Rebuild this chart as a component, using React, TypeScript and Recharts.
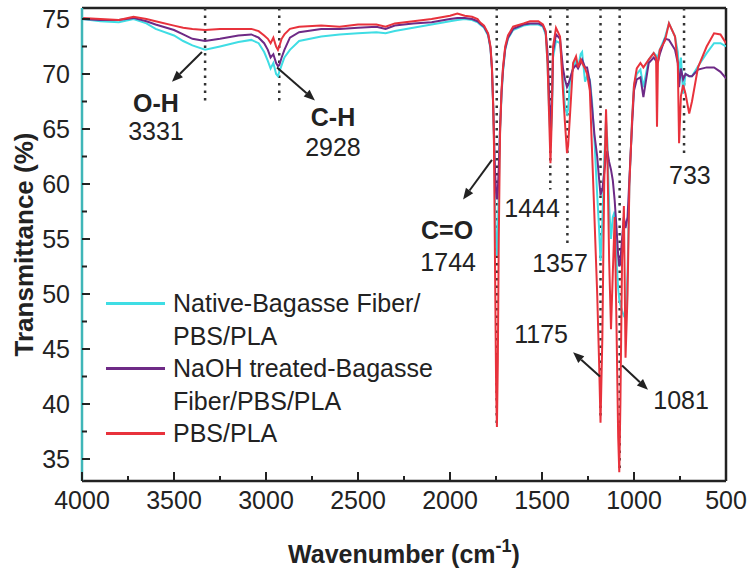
import React from 'react';
import { LineChart, Line, XAxis, YAxis, ReferenceLine, ReferenceDot, Legend, Label } from 'recharts';

const FONT = '"Liberation Sans", Arial, sans-serif';
const INK = '#222';
const CYAN = '#3fdde4';
const PURPLE = '#6e2a86';
const RED = '#e8323c';

// wavenumbers (cm-1), shared by all three spectra
const wavenumbers = [
  4000, 3900, 3800, 3720, 3650, 3600, 3500, 3450, 3400, 3331,
  3250, 3150, 3080, 3040, 3010, 2990, 2975, 2960, 2945, 2935,
  2928, 2915, 2900, 2870, 2820, 2700, 2600, 2500, 2400, 2350,
  2300, 2200, 2100, 2000, 1960, 1920, 1880, 1850, 1837, 1815,
  1793, 1780, 1772, 1765, 1761, 1755, 1749, 1745, 1740, 1735,
  1728, 1720, 1712, 1700, 1685, 1657, 1600, 1565, 1520, 1495,
  1480, 1470, 1462, 1454, 1446, 1440, 1424, 1402, 1386, 1375,
  1364, 1358, 1347, 1331, 1315, 1304, 1290, 1282, 1266, 1255,
  1240, 1228, 1215, 1200, 1190, 1182, 1172, 1162, 1152, 1145,
  1135, 1125, 1115, 1105, 1095, 1086, 1080, 1074, 1065, 1055,
  1046, 1035, 1025, 1010, 1000, 985, 965, 949, 920, 893,
  880, 875, 870, 860, 832, 810, 777, 762, 755, 745,
  733, 720, 700, 685, 652, 605, 565, 530, 500,
];

// Native-Bagasse Fiber/PBS/PLA
const nativeFiber = [
  75.0, 74.8, 74.7, 75.0, 74.6, 74.1, 73.5, 73.0, 72.6, 72.2,
  72.5, 72.9, 73.1, 72.8, 72.0, 71.2, 70.5, 71.0, 70.0, 69.8,
  70.2, 70.8, 71.5, 72.2, 73.0, 73.4, 73.6, 73.7, 73.8, 73.7,
  73.9, 74.2, 74.5, 74.8, 74.9, 75.0, 74.9, 74.7, 74.5, 74.2,
  73.5, 72.3, 70.4, 66.8, 64.0, 58.0, 54.5, 53.5, 55.5, 59.5,
  64.8, 68.0, 70.2, 72.2, 73.2, 74.0, 74.4, 74.5, 74.5, 74.3,
  73.6, 71.0, 67.0, 64.0, 66.0, 71.5, 73.0, 72.8, 69.7, 67.0,
  66.4, 66.8, 69.5, 70.5, 71.3, 70.6, 71.8, 72.0, 69.3, 69.8,
  69.5, 67.5, 64.0, 59.0, 56.0, 53.0, 56.5, 62.0, 65.8, 64.0,
  58.0, 55.0, 57.0, 57.5, 53.0, 50.5, 49.5, 49.0, 48.5, 48.0,
  47.8, 52.0, 60.0, 66.0, 69.0, 70.0, 70.4, 68.8, 71.3, 71.9,
  71.7, 71.5, 71.6, 72.2, 73.3, 74.6, 73.4, 72.0, 70.0, 71.5,
  68.2, 70.0, 69.8, 69.8, 70.7, 71.9, 72.8, 72.8, 72.5,
];

// NaOH treated-Bagasse Fiber/PBS/PLA
const naohFiber = [
  75.0, 74.9, 74.9, 75.1, 74.8, 74.5, 74.0, 73.6, 73.2, 73.0,
  73.2, 73.5, 73.6, 73.3, 72.8, 72.2, 71.5, 71.8, 71.0, 70.7,
  70.8, 71.5, 72.2, 73.3, 73.8, 74.1, 74.1, 74.2, 74.3, 74.1,
  74.4, 74.6, 74.7, 75.0, 75.1, 75.1, 75.0, 74.8, 74.6, 74.3,
  73.6, 72.4, 70.5, 67.0, 64.5, 61.0, 59.2, 58.6, 59.5, 61.5,
  65.2, 68.3, 70.4, 72.3, 73.3, 74.1, 74.5, 74.6, 74.6, 74.4,
  73.8, 72.0, 68.5, 65.0, 67.5, 72.0, 73.6, 73.2, 70.5, 69.5,
  68.8, 69.0, 69.6, 70.5, 70.8, 70.5, 71.0, 71.3, 70.6, 70.6,
  69.3, 67.0, 64.5, 62.5, 60.5, 59.0, 59.5, 61.0, 62.5, 63.0,
  62.0, 61.3, 60.3, 58.5, 56.0, 53.5, 52.5, 53.0, 55.0, 57.0,
  56.0, 57.0, 60.5, 65.5, 68.5, 69.5, 69.7, 67.9, 71.0, 71.5,
  71.2, 71.0, 71.1, 71.8, 73.2, 73.1, 72.2, 71.0, 68.8, 70.5,
  69.5, 70.0, 69.8, 69.8, 70.4, 70.6, 70.6, 70.2, 69.6,
];

// PBS/PLA
const pbsPla = [
  75.1, 75.0, 74.9, 75.2, 75.0, 74.8, 74.4, 74.2, 74.1, 74.0,
  74.1, 74.1, 74.1, 73.9, 73.5, 73.2, 72.8, 73.3, 72.5, 72.2,
  72.5, 73.2, 73.6, 74.1, 74.3, 74.4, 74.3, 74.5, 74.5, 74.3,
  74.6, 74.8, 75.0, 75.3, 75.5, 75.3, 75.2, 75.0, 74.7, 74.4,
  73.7, 72.5, 70.6, 67.0, 63.5, 52.0, 41.0, 37.9, 44.0, 55.0,
  64.5, 68.5, 70.6, 72.5, 73.5, 74.3, 74.6, 74.8, 74.8, 74.5,
  73.9, 71.0, 66.5, 61.9, 66.5, 72.5, 74.2, 73.4, 68.5, 65.5,
  62.8, 63.5, 66.5, 71.0, 71.6, 70.6, 71.3, 71.0, 70.5, 70.0,
  68.5, 63.0, 57.0, 50.0, 44.0, 38.3, 46.0, 60.0, 66.8, 63.0,
  53.0, 46.8, 52.0, 57.0, 47.0, 37.0, 33.8, 40.0, 53.0, 58.0,
  44.2, 50.0, 60.0, 66.0, 69.0, 70.5, 71.0, 70.6, 71.3, 71.9,
  71.5, 65.2, 71.0, 72.2, 73.0, 74.6, 73.4, 71.0, 63.7, 68.0,
  69.0, 68.2, 66.4, 67.5, 70.6, 72.5, 73.7, 73.6, 72.8,
];

const seriesNames = [
  ['Native-Bagasse Fiber/', 'PBS/PLA'],
  ['NaOH treated-Bagasse', 'Fiber/PBS/PLA'],
  ['PBS/PLA'],
];
const seriesColors = [CYAN, PURPLE, RED];

const xTicks = [500, 750, 1000, 1250, 1500, 1750, 2000, 2250, 2500, 2750, 3000, 3250, 3500, 3750, 4000];
const yTicks = [35, 37.5, 40, 42.5, 45, 47.5, 50, 52.5, 55, 57.5, 60, 62.5, 65, 67.5, 70, 72.5, 75];

// dotted peak markers: [wavenumber, lower end of the dotted line]
const peakMarkers = [
  [3331, 67.5], [2928, 67.5], [1746, 38], [1455, 59.5], [1362, 54.5], [1182, 38.5], [1078, 34], [728, 62.5],
];

// peak labels: text, wavenumber, transmittance (text centre), bold
const peakLabels = [
  { text: 'O-H', wn: 3598, t: 67.4, bold: true },
  { text: '3331', wn: 3598, t: 64.8, bold: false },
  { text: 'C-H', wn: 2636, t: 66.1, bold: true },
  { text: '2928', wn: 2636, t: 63.4, bold: false },
  { text: 'C=O', wn: 2016, t: 55.8, bold: true },
  { text: '1744', wn: 2010, t: 52.9, bold: false },
  { text: '1444', wn: 1554, t: 57.8, bold: false },
  { text: '1357', wn: 1402, t: 52.8, bold: false },
  { text: '733', wn: 696, t: 60.8, bold: false },
  { text: '1175', wn: 1505, t: 46.4, bold: false },
  { text: '1081', wn: 744, t: 40.4, bold: false },
];

// arrows from peak to label: [fromWn, fromT, toWn, toT]
const arrows = [
  [3348, 72.0, 3511, 69.3],
  [2940, 70.6, 2734, 67.6],
  [1772, 62.2, 1929, 58.6],
  [1185, 42.5, 1331, 44.7],
  [1065, 43.5, 924, 41.3],
];

const data = wavenumbers.map((wn, i) => ({
  wn,
  native: nativeFiber[i],
  naoh: naohFiber[i],
  pbs: pbsPla[i],
}));

const XTick = ({ x, y, payload }: any) => {
  const major = payload.value % 500 === 0;
  const axisY = y - 10;
  return (
    <g>
      <line x1={x} x2={x} y1={axisY} y2={axisY - (major ? 9 : 5)} stroke={INK} strokeWidth={2} />
      {major && (
        <text x={x} y={y} dy="0.71em" textAnchor="middle" fontSize={25} fontFamily={FONT} fill={INK}>
          {payload.value}
        </text>
      )}
    </g>
  );
};

const YTick = ({ x, y, payload }: any) => {
  const major = payload.value % 5 === 0;
  const axisX = x + 12;
  return (
    <g>
      <line x1={axisX} x2={axisX + (major ? 8 : 5)} y1={y} y2={y} stroke={INK} strokeWidth={2} />
      {major && (
        <text x={x} y={y} dy="0.355em" textAnchor="end" fontSize={25} fontFamily={FONT} fill={INK}>
          {payload.value}
        </text>
      )}
    </g>
  );
};

const XTitle = ({ viewBox }: any) => {
  const cx = viewBox.x + viewBox.width / 2;
  const by = viewBox.y + 82;
  return (
    <text x={cx} y={by} textAnchor="middle" fontSize={25} fontWeight="bold" fontFamily={FONT} fill={INK}>
      Wavenumber (cm<tspan dy={-11} fontSize={18}>-1</tspan><tspan dy={11}>)</tspan>
    </text>
  );
};

const YTitle = ({ viewBox }: any) => {
  const cx = viewBox.x + 2;
  const cy = viewBox.y + viewBox.height / 2;
  return (
    <text
      x={cx}
      y={cy}
      transform={`rotate(-90 ${cx} ${cy})`}
      textAnchor="middle"
      dominantBaseline="central"
      fontSize={26}
      fontWeight="bold"
      fontFamily={FONT}
      fill={INK}
    >
      Transmittance (%)
    </text>
  );
};

const Arrow = (p: any) => {
  const { x1, y1, x2, y2 } = p;
  const a = Math.atan2(y2 - y1, x2 - x1);
  const len = 11;
  const half = 4.5;
  const bx = x2 - len * Math.cos(a);
  const by = y2 - len * Math.sin(a);
  const pts = `${x2},${y2} ${bx + half * Math.sin(a)},${by - half * Math.cos(a)} ${bx - half * Math.sin(a)},${by + half * Math.cos(a)}`;
  return (
    <g>
      <line x1={x1} y1={y1} x2={bx} y2={by} stroke={INK} strokeWidth={2} />
      <polygon points={pts} fill={INK} />
    </g>
  );
};

const renderLegend = () => (
  <div style={{ position: 'relative', fontFamily: FONT, fontSize: 25, lineHeight: '32.5px', color: INK }}>
    {seriesNames.map((lines, i) => (
      <div key={i} style={{ position: 'relative', paddingLeft: 73, whiteSpace: 'nowrap' }}>
        <span
          style={{
            position: 'absolute',
            left: 6,
            top: 15,
            width: 59,
            height: 2.5,
            background: seriesColors[i],
          }}
        />
        {lines.map((l, j) => (
          <div key={j}>{l}</div>
        ))}
      </div>
    ))}
  </div>
);

export default function App() {
  return (
    <div style={{ position: 'absolute', left: 0, top: 0, background: '#fff' }}>
      <LineChart width={749} height={571} data={data} margin={{ top: 8, right: 23, left: 22, bottom: 40 }}>
        <XAxis
          type="number"
          dataKey="wn"
          domain={[500, 4000]}
          reversed
          allowDataOverflow
          ticks={xTicks}
          interval={0}
          tick={(p: any) => <XTick {...p} />}
          tickLine={false}
          tickSize={0}
          tickMargin={10}
          height={50}
          axisLine={{ stroke: INK, strokeWidth: 2.5 }}
        >
          <Label content={XTitle} />
        </XAxis>
        <YAxis
          type="number"
          domain={[33, 76]}
          allowDataOverflow
          ticks={yTicks}
          interval={0}
          tick={(p: any) => <YTick {...p} />}
          tickLine={false}
          tickSize={0}
          tickMargin={12}
          width={60}
          axisLine={{ stroke: '#3fb6b8', strokeWidth: 2.5 }}
        >
          <Label content={YTitle} />
        </YAxis>
        <ReferenceLine y={76} stroke={INK} strokeWidth={2.5} />
        <ReferenceLine x={500} stroke={INK} strokeWidth={2.5} />
        {peakMarkers.map(([wn, low], i) => (
          <ReferenceLine
            key={`m${i}`}
            segment={[{ x: wn, y: 76 }, { x: wn, y: low }]}
            stroke="#333"
            strokeWidth={2.5}
            strokeDasharray="2.5 5"
          />
        ))}
        <Line type="linear" dataKey="native" stroke={CYAN} strokeWidth={2} dot={false} isAnimationActive={false} />
        <Line type="linear" dataKey="naoh" stroke={PURPLE} strokeWidth={2} dot={false} isAnimationActive={false} />
        <Line type="linear" dataKey="pbs" stroke={RED} strokeWidth={2} dot={false} isAnimationActive={false} />
        {arrows.map(([w1, t1, w2, t2], i) => (
          <ReferenceLine key={`a${i}`} segment={[{ x: w1, y: t1 }, { x: w2, y: t2 }]} shape={Arrow} />
        ))}
        {peakLabels.map((l, i) => (
          <ReferenceDot
            key={`l${i}`}
            x={l.wn}
            y={l.t}
            r={0}
            shape={(p: any) => (
              <text
                x={p.cx}
                y={p.cy}
                textAnchor="middle"
                dominantBaseline="central"
                fontSize={25}
                fontWeight={l.bold ? 'bold' : 'normal'}
                fontFamily={FONT}
                fill={INK}
              >
                {l.text}
              </text>
            )}
          />
        ))}
        <Legend
          layout="horizontal"
          verticalAlign="middle"
          align="center"
          content={renderLegend}
          wrapperStyle={{ left: 100, top: 287, width: 360, height: 170 }}
        />
      </LineChart>
    </div>
  );
}
